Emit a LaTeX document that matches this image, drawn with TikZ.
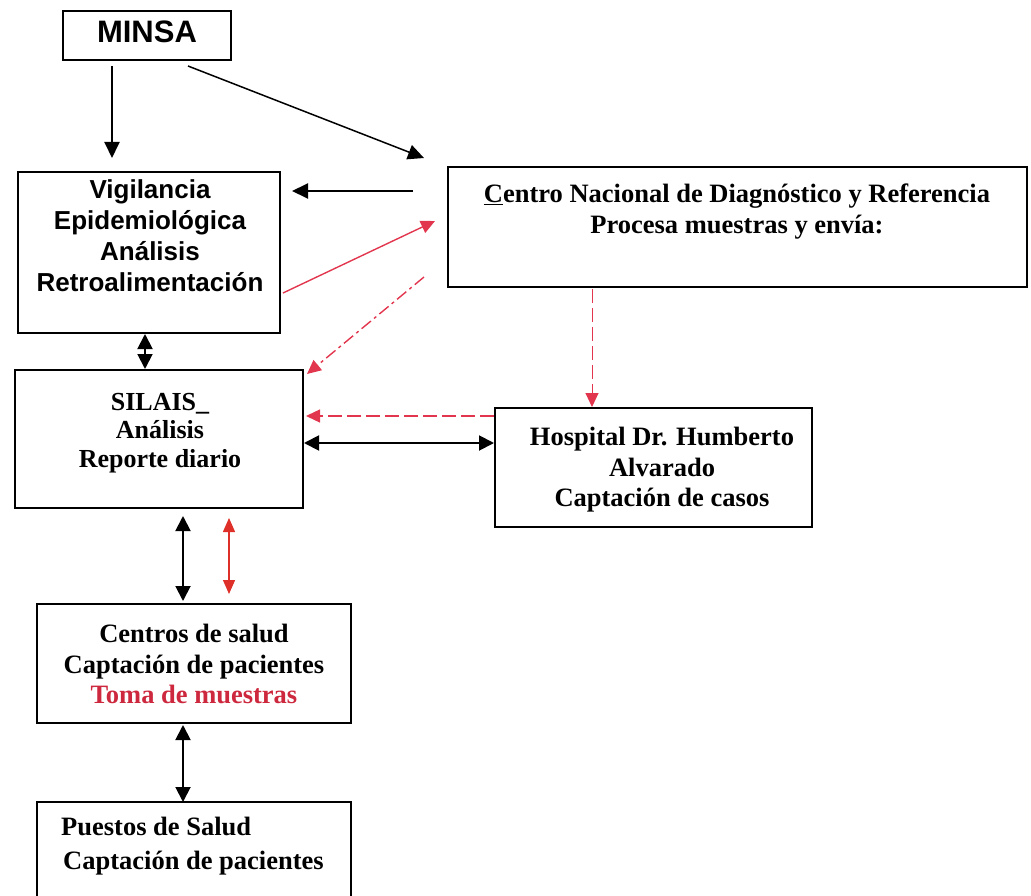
\documentclass[tikz,border=0pt]{standalone}
\usepackage{fontspec}
\setmainfont{Liberation Serif}
\newfontfamily\arialf{Liberation Sans}
\usetikzlibrary{arrows.meta}
\definecolor{redA}{RGB}{226,54,78}
\definecolor{redB}{RGB}{222,48,40}
\definecolor{redT}{RGB}{205,40,62}
\tikzset{
  box/.style={draw=black, line width=1.7pt, inner sep=0pt},
  txt/.style={align=center, inner sep=0pt, font=\fontsize{26.5}{30.5}\selectfont\bfseries},
  sanstxt/.style={align=center, inner sep=0pt, font=\arialf\fontsize{26}{31}\selectfont\bfseries},
  blk/.style={draw=black, line width=1.9pt, -{Triangle[length=16pt,width=15pt]}},
  blkboth/.style={draw=black, line width=1.9pt, {Triangle[length=15pt,width=15pt]}-{Triangle[length=15pt,width=15pt]}},
  reda/.style={draw=redA, line width=1.4pt, -{Triangle[length=14pt,width=13pt]}},
  redboth/.style={draw=redB, line width=1.4pt, {Triangle[length=14pt,width=12pt]}-{Triangle[length=14pt,width=12pt]}},
  reddash/.style={dash pattern=on 14pt off 5pt},
  reddashdot/.style={dash pattern=on 12pt off 4pt on 3pt off 4pt},
}
\begin{document}
\begin{tikzpicture}[x=1pt,y=-1pt]
\useasboundingbox (0,0) rectangle (1031,896);
% boxes
\node[box, minimum width=168, minimum height=49] (minsa) at (147,35.5) {};
\node[box, minimum width=262, minimum height=161] (vig) at (149,252.5) {};
\node[box, minimum width=579, minimum height=120] (cndr) at (737.5,227) {};
\node[box, minimum width=288, minimum height=138] (silais) at (159,439) {};
\node[box, minimum width=317, minimum height=119] (hosp) at (653.5,467.5) {};
\node[box, minimum width=314, minimum height=119] (centros) at (194,663.5) {};
\node[box, minimum width=314, minimum height=102] (puestos) at (194,853) {};
% texts
\node[inner sep=0pt, font=\arialf\fontsize{31}{34}\selectfont\bfseries] (minsaT) at (147,32) {MINSA};
\node[sanstxt] (vigT) at (150,236) {Vigilancia\\Epidemiológica\\Análisis\\Retroalimentación};
\node[txt] (cndrT) at (737,211.5) {\underline{C}entro Nacional de Diagnóstico y Referencia\\Procesa muestras y envía:};
\node[txt, font=\fontsize{26}{28.5}\selectfont\bfseries] (silaisT) at (160,433) {SILAIS\_\\Análisis\\Reporte diario};
\node[txt] (hospT) at (662,470) {Hospital Dr. Humberto\\Alvarado\\Captación de casos};
\node[txt] (centrosT) at (194,664) {Centros de salud\\Captación de pacientes\\\textcolor{redT}{Toma de muestras}};
\node[txt, align=left, anchor=west, font=\fontsize{26.5}{34}\selectfont\bfseries] (puestosT) at (61,846) {Puestos de Salud\\\hspace{2pt}Captación de pacientes};
% free ends
\coordinate (m1) at (112,66);
\coordinate (v1) at (112,158);
\coordinate (m2) at (188,66);
\coordinate (c2) at (424,158);
\coordinate (c3) at (413,191);
\coordinate (v3) at (292,191);
\coordinate (v4) at (283,293);
\coordinate (c4) at (435,221);
\coordinate (c5) at (424,277);
\coordinate (s5) at (307,374);
\coordinate (c6) at (592,289);
\coordinate (h6) at (592,407);
\coordinate (h7) at (494,416);
\coordinate (s7) at (306,416);
\coordinate (s8) at (304,443);
\coordinate (h8) at (494,443);
\coordinate (v9) at (145,334);
\coordinate (s9) at (145,369);
\coordinate (s10) at (183,516);
\coordinate (ce10) at (183,601);
\coordinate (s11) at (229,518);
\coordinate (ce11) at (229,594);
\coordinate (ce12) at (183,725);
\coordinate (p12) at (183,802);
% black connectors
\draw[blk] (m1) -- (v1);
\draw[blk, line width=1.5pt] (m2) -- (c2);
\draw[blk] (c3) -- (v3);
\draw[blkboth] (s8) -- (h8);
\draw[blkboth] (v9) -- (s9);
\draw[blkboth] (s10) -- (ce10);
\draw[blkboth] (ce12) -- (p12);
% red connectors
\draw[reda] (v4) -- (c4);
\draw[reda, reddashdot] (c5) -- (s5);
\draw[reda, reddash, line width=1pt] (c6) -- (h6);
\draw[reda, reddash] (h7) -- (s7);
\draw[redboth] (s11) -- (ce11);
\end{tikzpicture}
\end{document}
